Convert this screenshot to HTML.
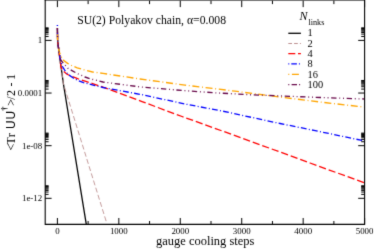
<!DOCTYPE html><html><head><meta charset="utf-8"><title>SU(2) Polyakov chain</title>
<style>html,body{margin:0;padding:0;background:#fff}svg{display:block;will-change:transform}text{font-family:"Liberation Serif",serif;fill:#000}</style></head><body>
<svg width="374" height="250" viewBox="0 0 374 250">
<rect width="374" height="250" fill="#fff"/>
<filter id="soft" x="0" y="0" width="100%" height="100%" filterUnits="objectBoundingBox" color-interpolation-filters="sRGB"><feConvolveMatrix order="3" kernelMatrix="0.015 0.085 0.015 0.085 0.6 0.085 0.015 0.085 0.015" edgeMode="duplicate" preserveAlpha="true"/></filter>
<g filter="url(#soft)">
<rect width="374" height="250" fill="#fff"/>
<clipPath id="c"><rect x="45.2" y="0.7" width="319.40000000000003" height="223.70000000000002"/></clipPath>
<g clip-path="url(#c)" fill="none">
<polyline points="57.4,28.0 57.6,40.0 59.0,52.0 60.0,60.0 61.0,66.5 63.5,84.5 86.3,224.4" stroke="#000" stroke-width="1.3"/>
<polyline points="57.4,28.0 57.6,40.0 59.0,52.0 60.0,60.0 61.0,66.5 63.5,84.0 106.4,222.0" stroke="rgb(188,143,143)" stroke-width="0.9" stroke-dasharray="5 2.5"/>
<polyline points="57.4,28.0 57.6,40.0 59.0,52.0 60.1,60.0 60.9,66.7 62.8,70.6 66.7,74.0 70.5,75.9 75.8,77.8 80.1,79.7 85.9,81.4 92.6,83.6 103.0,87.1 142.0,101.6 182.0,116.5 222.0,130.9 250.0,141.1 280.0,152.0 310.0,163.0 364.4,182.8" stroke="rgb(255,0,0)" stroke-width="1.3" stroke-dasharray="7.2 2.9" stroke-dashoffset="-4.2"/>
<polyline points="57.4,28.0 57.6,40.0 59.0,52.0 60.2,59.0 61.4,63.8 62.3,66.3 64.7,70.1 68.1,74.4 72.9,77.8 77.7,80.4 83.5,82.6 87.8,83.7 95.0,85.6 103.0,87.5 142.0,94.7 185.0,104.0 222.0,111.0 280.0,123.5 314.0,130.4 364.4,140.9" stroke="rgb(0,0,255)" stroke-width="1.3" stroke-dasharray="5.8 2.3 1 2.25" stroke-dashoffset="-4.6"/>
<polyline points="57.4,28.0 57.6,40.0 58.8,50.0 59.6,52.8 61.4,57.2 63.8,60.5 67.6,63.4 71.5,65.5 77.2,67.9 84.0,69.8 92.6,72.0 103.0,73.4 140.0,79.0 185.0,85.1 215.0,88.7 235.0,91.2 280.0,97.0 320.0,102.0 364.4,107.1" stroke="rgb(255,165,0)" stroke-width="1.35" stroke-dasharray="7 2.7 0.9 2.7" stroke-dashoffset="-6.3"/>
<polyline points="57.4,28.0 57.6,40.0 59.0,52.0 59.8,56.0 60.6,59.6 63.3,63.4 65.2,65.3 68.1,68.5 71.5,70.3 76.8,73.3 81.6,75.4 85.0,77.0 90.7,78.9 103.0,82.0 140.0,86.9 185.0,90.7 215.0,92.8 250.0,94.7 280.0,95.9 320.0,97.5 364.4,99.0" stroke="rgb(103,7,72)" stroke-width="1.35" stroke-dasharray="5.3 2.8 0.9 2.9 0.9 2.7"/>
<path d="M57.4 25.1V26.1" stroke="rgb(0,0,255)" stroke-width="1.45"/>
</g>
<path d="M45.2 0V224.4H364.6V0" fill="none" stroke="#000" stroke-width="1.1" stroke-linejoin="miter"/>
<path d="M44.7 0.05H365.1" fill="none" stroke="#000" stroke-width="1"/>
<path d="M57.40 224.4v-6.4M57.40 0.7v6.4M88.12 224.4v-3.4M88.12 0.7v3.4M118.84 224.4v-6.4M118.84 0.7v6.4M149.56 224.4v-3.4M149.56 0.7v3.4M180.28 224.4v-6.4M180.28 0.7v6.4M211.00 224.4v-3.4M211.00 0.7v3.4M241.72 224.4v-6.4M241.72 0.7v6.4M272.44 224.4v-3.4M272.44 0.7v3.4M303.16 224.4v-6.4M303.16 0.7v6.4M333.88 224.4v-3.4M333.88 0.7v3.4M364.60 224.4v-6.4M364.60 0.7v6.4M45.2 40.40h6.4M364.6 40.40h-6.4M45.2 36.44h3.4M364.6 36.44h-3.4M45.2 34.12h3.4M364.6 34.12h-3.4M45.2 32.48h3.4M364.6 32.48h-3.4M45.2 31.20h3.4M364.6 31.20h-3.4M45.2 30.16h3.4M364.6 30.16h-3.4M45.2 29.28h3.4M364.6 29.28h-3.4M45.2 28.52h3.4M364.6 28.52h-3.4M45.2 27.84h3.4M364.6 27.84h-3.4M45.2 93.04h6.4M364.6 93.04h-6.4M45.2 89.08h3.4M364.6 89.08h-3.4M45.2 86.76h3.4M364.6 86.76h-3.4M45.2 85.12h3.4M364.6 85.12h-3.4M45.2 83.84h3.4M364.6 83.84h-3.4M45.2 82.80h3.4M364.6 82.80h-3.4M45.2 81.92h3.4M364.6 81.92h-3.4M45.2 81.16h3.4M364.6 81.16h-3.4M45.2 80.48h3.4M364.6 80.48h-3.4M45.2 145.68h6.4M364.6 145.68h-6.4M45.2 141.72h3.4M364.6 141.72h-3.4M45.2 139.40h3.4M364.6 139.40h-3.4M45.2 137.76h3.4M364.6 137.76h-3.4M45.2 136.48h3.4M364.6 136.48h-3.4M45.2 135.44h3.4M364.6 135.44h-3.4M45.2 134.56h3.4M364.6 134.56h-3.4M45.2 133.80h3.4M364.6 133.80h-3.4M45.2 133.12h3.4M364.6 133.12h-3.4M45.2 198.32h6.4M364.6 198.32h-6.4M45.2 194.36h3.4M364.6 194.36h-3.4M45.2 192.04h3.4M364.6 192.04h-3.4M45.2 190.40h3.4M364.6 190.40h-3.4M45.2 189.12h3.4M364.6 189.12h-3.4M45.2 188.08h3.4M364.6 188.08h-3.4M45.2 187.20h3.4M364.6 187.20h-3.4M45.2 186.44h3.4M364.6 186.44h-3.4M45.2 185.76h3.4M364.6 185.76h-3.4" stroke="#000" stroke-width="1" fill="none"/>
<g font-size="8.9" text-anchor="middle">
<text x="57.4" y="234">0</text>
<text x="118.8" y="234">1000</text>
<text x="180.3" y="234">2000</text>
<text x="241.7" y="234">3000</text>
<text x="303.2" y="234">4000</text>
<text x="364.6" y="234">5000</text>
</g>
<g font-size="8.9" text-anchor="end">
<text x="42.2" y="43.4">1</text>
<text x="42.2" y="96.0">0.0001</text>
<text x="42.2" y="148.7">1e-08</text>
<text x="42.2" y="201.3">1e-12</text>
</g>
<text x="156" y="245" font-size="12.4" textLength="98.4" lengthAdjust="spacingAndGlyphs">gauge cooling steps</text>
<text transform="translate(14.7,150) rotate(-90)" font-size="12"><tspan x="-0.4">&lt;</tspan><tspan x="5.6">T</tspan><tspan x="12.7">r </tspan><tspan x="21.0" font-family="Liberation Sans,sans-serif">U</tspan><tspan x="30.6" font-family="Liberation Sans,sans-serif">U</tspan><tspan x="39.3" dy="-7.6" font-size="8.5" font-weight="bold">†</tspan><tspan x="44.2" dy="7.6">&gt;</tspan><tspan x="50.2">/</tspan><tspan x="54">2 </tspan><tspan x="63.5">- </tspan><tspan x="70.1">1</tspan></text>
<text x="77.2" y="23.8" font-size="11.75" textLength="148.8" lengthAdjust="spacingAndGlyphs">SU(2) Polyakov chain, α=0.008</text>
<text x="299.5" y="19.8" font-size="12"><tspan font-style="italic">N</tspan><tspan dx="0.9" dy="4.9" font-size="8.2">links</tspan></text>
<path d="M288.3 33.3H300.9" stroke="#000" stroke-width="1.3" fill="none"/>
<text x="307.6" y="36.4" font-size="10.4">1</text>
<path d="M288.3 43.5H300.9" stroke="rgb(188,143,143)" stroke-width="1.15" stroke-dasharray="3.7 2.1" fill="none"/>
<text x="307.6" y="46.5" font-size="10.4">2</text>
<path d="M288.3 53.6H300.9" stroke="rgb(255,0,0)" stroke-width="1.3" stroke-dasharray="7 2.7" fill="none"/>
<text x="307.6" y="56.9" font-size="10.4">4</text>
<path d="M288.3 63.9H300.9" stroke="rgb(0,0,255)" stroke-width="1.3" stroke-dasharray="1 2 5.6 2" fill="none"/>
<text x="307.6" y="67.2" font-size="10.4">8</text>
<path d="M288.3 74.4H300.9" stroke="rgb(255,165,0)" stroke-width="1.35" stroke-dasharray="1 2.6 7 2.6" fill="none"/>
<text x="307.6" y="77.6" font-size="10.4">16</text>
<path d="M288.3 84.6H300.9" stroke="rgb(103,7,72)" stroke-width="1.35" stroke-dasharray="1 2.3 5.4 2.1 1 1" fill="none"/>
<text x="307.6" y="87.9" font-size="10.4">100</text>
</g></svg></body></html>
